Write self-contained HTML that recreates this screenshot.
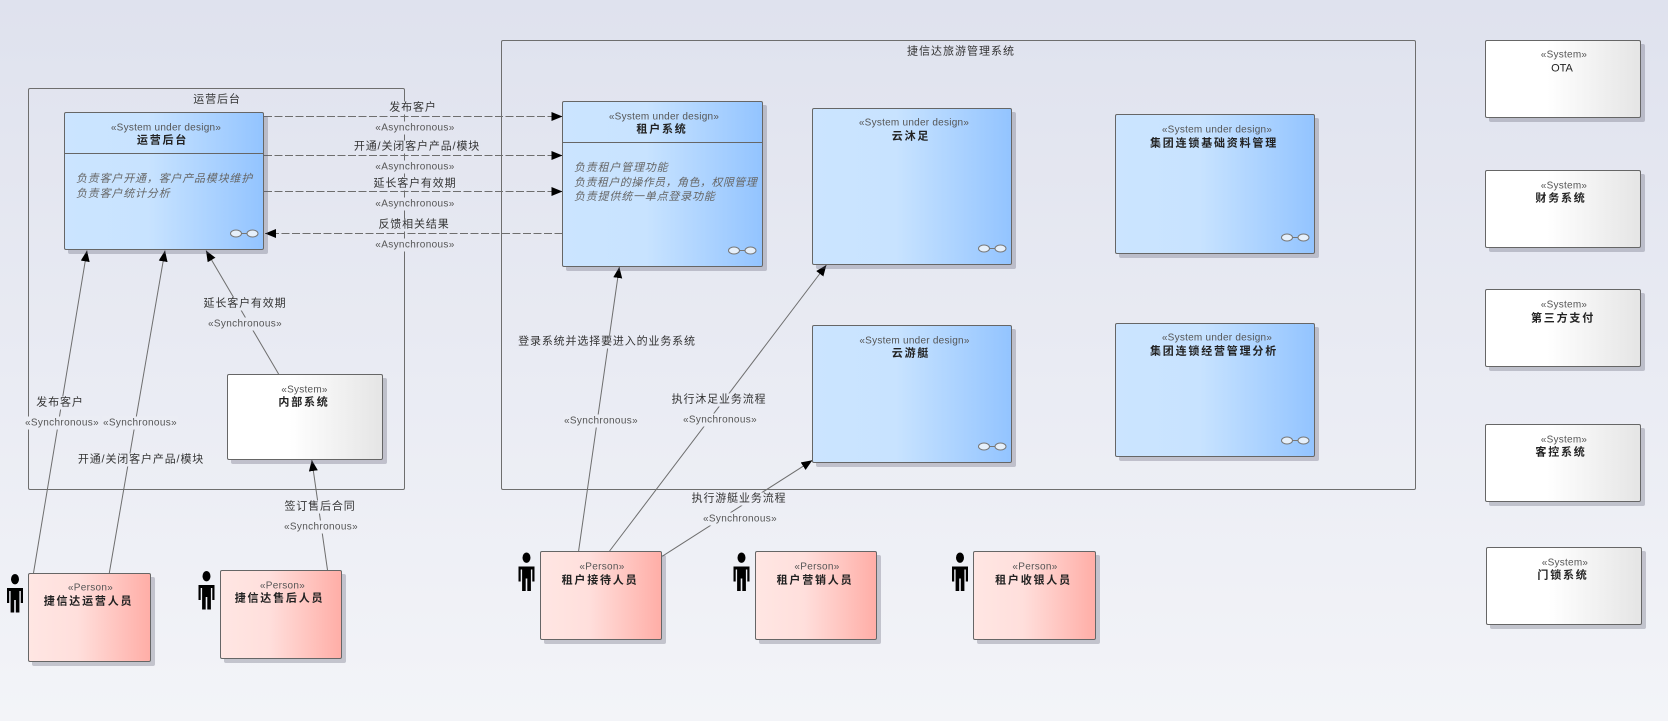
<!DOCTYPE html>
<html lang="zh">
<head>
<meta charset="utf-8">
<title>捷信达旅游管理系统</title>
<style>
html,body{margin:0;padding:0;width:1668px;height:721px;overflow:hidden}
body{position:relative;background:linear-gradient(180deg,#dfe2ee 0%,#f3f4f8 100%);font-family:"Liberation Sans","Noto Sans CJK SC",sans-serif;font-size:11px;color:#333}
.bd{position:absolute;box-sizing:border-box;border:1px solid #6e6e6e;border-radius:2px}
svg{position:absolute;left:0;top:0}
.box{position:absolute;box-sizing:border-box;border:1px solid #666;border-radius:2px;box-shadow:4px 4px 0 rgba(90,90,110,.3)}
.blue{background:linear-gradient(90deg,#cbe4ff 0%,#c8e3ff 42%,#93c4ff 100%)}
.red{background:linear-gradient(90deg,#ffe6e3 0%,#ffdfdc 40%,#ffaea7 100%)}
.white{background:linear-gradient(90deg,#fff 0%,#fff 40%,#e5e5e5 100%)}
.t{position:absolute;transform:translate(-50%,-50%);margin-top:1px;white-space:nowrap;line-height:13px}
.s{color:#555;font-size:10px;letter-spacing:.25px}
.n{font-weight:bold;color:#222;letter-spacing:1.8px}
.l{color:#333;letter-spacing:.85px;padding:0 1px}
.a{color:#555;font-size:10px;letter-spacing:.35px;padding:0 1px}
.i{position:absolute;white-space:nowrap;font-style:italic;color:#666;letter-spacing:.8px;line-height:14.5px}
.div{position:absolute;height:1px;background:#666}
</style>
</head>
<body>
<div class="bd" style="left:28px;top:88px;width:377px;height:402px"></div>
<div class="bd" style="left:501px;top:40px;width:915px;height:450px"></div>

<svg width="1668" height="721">
<defs>
<marker id="ah" markerUnits="userSpaceOnUse" markerWidth="12" markerHeight="10" refX="11" refY="4.5" orient="auto"><path d="M0,0 L11,4.5 L0,9 Z" fill="#000"/></marker>
</defs>
<g stroke="#6e6e6e" stroke-width="1" fill="none">
<line x1="264" y1="116.5" x2="562.5" y2="116.5" stroke-dasharray="8 2.5" marker-end="url(#ah)"/>
<line x1="264" y1="155.5" x2="562.5" y2="155.5" stroke-dasharray="8 2.5" marker-end="url(#ah)"/>
<line x1="264" y1="191.5" x2="562.5" y2="191.5" stroke-dasharray="8 2.5" marker-end="url(#ah)"/>
<line x1="562.5" y1="233.5" x2="265" y2="233.5" stroke-dasharray="8 2.5" marker-end="url(#ah)"/>
<line x1="278.6" y1="374" x2="206" y2="250.5" marker-end="url(#ah)"/>
<line x1="33.5" y1="573" x2="87" y2="250.5" marker-end="url(#ah)"/>
<line x1="109.3" y1="573" x2="165" y2="250.5" marker-end="url(#ah)"/>
<line x1="327.5" y1="570" x2="311.8" y2="460" marker-end="url(#ah)"/>
<line x1="578.6" y1="551" x2="619.3" y2="267" marker-end="url(#ah)"/>
<line x1="609.6" y1="551" x2="826.4" y2="265" marker-end="url(#ah)"/>
<line x1="662.2" y1="556.3" x2="812.4" y2="460.3" marker-end="url(#ah)"/>
</g>
</svg>

<div class="t" style="left:217px;top:99px;color:#333;letter-spacing:.9px">运营后台</div>
<div class="t" style="left:961px;top:51px;color:#333;letter-spacing:1px">捷信达旅游管理系统</div>

<div class="t l" style="left:413px;top:107px;background:#e2e5f0">发布客户</div>
<div class="t a" style="left:415px;top:127px;background:#e3e5f0">«Asynchronous»</div>
<div class="t l" style="left:417px;top:146px;background:#e3e6f0">开通/关闭客户产品/模块</div>
<div class="t a" style="left:415px;top:166px;background:#e4e6f0">«Asynchronous»</div>
<div class="t l" style="left:415px;top:183px;background:#e4e7f1">延长客户有效期</div>
<div class="t a" style="left:415px;top:203px;background:#e5e7f1">«Asynchronous»</div>
<div class="t l" style="left:414px;top:224px;background:#e5e8f1">反馈相关结果</div>
<div class="t a" style="left:415px;top:244px;background:#e6e8f1">«Asynchronous»</div>

<div class="t l" style="left:245px;top:303px;background:#e7eaf2">延长客户有效期</div>
<div class="t a" style="left:245px;top:323px;background:#e8eaf2">«Synchronous»</div>
<div class="t l" style="left:60px;top:402px;background:#eaecf4">发布客户</div>
<div class="t a" style="left:62px;top:422px;background:#ebedf4">«Synchronous»</div>
<div class="t a" style="left:140px;top:422px;background:#ebedf4">«Synchronous»</div>
<div class="t l" style="left:141px;top:459px;background:#eceef4">开通/关闭客户产品/模块</div>
<div class="t l" style="left:320px;top:506px;background:#edeff5">签订售后合同</div>
<div class="t a" style="left:321px;top:526px;background:#eeeff5">«Synchronous»</div>
<div class="t l" style="left:607px;top:341px;background:#e8eaf3">登录系统并选择要进入的业务系统</div>
<div class="t a" style="left:601px;top:420px;background:#ebedf4">«Synchronous»</div>
<div class="t l" style="left:719px;top:399px;background:#eaecf4">执行沐足业务流程</div>
<div class="t a" style="left:720px;top:419px;background:#ebedf4">«Synchronous»</div>
<div class="t l" style="left:739px;top:498px;background:#edeef5">执行游艇业务流程</div>
<div class="t a" style="left:740px;top:518px;background:#edeff5">«Synchronous»</div>

<!-- blue boxes -->
<div class="box blue" style="left:64px;top:112px;width:200px;height:138px"></div>
<div class="div" style="left:65px;top:153px;width:198px"></div>
<div class="t s" style="left:166px;top:127px">«System under design»</div>
<div class="t n" style="left:162.5px;top:140px">运营后台</div>
<div class="i" style="left:76px;top:172px">负责客户开通，客户产品模块维护<br>负责客户统计分析</div>

<div class="box blue" style="left:562px;top:101px;width:201px;height:166px"></div>
<div class="div" style="left:563px;top:142px;width:199px"></div>
<div class="t s" style="left:664px;top:116px">«System under design»</div>
<div class="t n" style="left:662px;top:129px">租户系统</div>
<div class="i" style="left:574px;top:161px">负责租户管理功能<br><span style="letter-spacing:.45px">负责租户的操作员，角色，权限管理</span><br>负责提供统一单点登录功能</div>

<div class="box blue" style="left:812px;top:108px;width:200px;height:157px"></div>
<div class="t s" style="left:914px;top:122px">«System under design»</div>
<div class="t n" style="left:911px;top:136px">云沐足</div>

<div class="box blue" style="left:812px;top:325px;width:200px;height:138px"></div>
<div class="t s" style="left:914.5px;top:340px">«System under design»</div>
<div class="t n" style="left:911px;top:353px">云游艇</div>

<div class="box blue" style="left:1115px;top:114px;width:200px;height:140px"></div>
<div class="t s" style="left:1217px;top:129px">«System under design»</div>
<div class="t n" style="left:1214px;top:143px">集团连锁基础资料管理</div>

<div class="box blue" style="left:1115px;top:323px;width:200px;height:134px"></div>
<div class="t s" style="left:1217px;top:337px">«System under design»</div>
<div class="t n" style="left:1214px;top:351px">集团连锁经营管理分析</div>

<!-- white boxes -->
<div class="box white" style="left:227px;top:374px;width:156px;height:86px"></div>
<div class="t s" style="left:304.5px;top:389px">«System»</div>
<div class="t n" style="left:304px;top:402px">内部系统</div>

<div class="box white" style="left:1485px;top:40px;width:156px;height:78px"></div>
<div class="t s" style="left:1564px;top:54px">«System»</div>
<div class="t" style="left:1562px;top:68px;color:#222">OTA</div>

<div class="box white" style="left:1485px;top:170px;width:156px;height:78px"></div>
<div class="t s" style="left:1564px;top:185px">«System»</div>
<div class="t n" style="left:1561px;top:198px">财务系统</div>

<div class="box white" style="left:1485px;top:289px;width:156px;height:78px"></div>
<div class="t s" style="left:1564px;top:304px">«System»</div>
<div class="t n" style="left:1563px;top:318px">第三方支付</div>

<div class="box white" style="left:1485px;top:424px;width:156px;height:78px"></div>
<div class="t s" style="left:1564px;top:439px">«System»</div>
<div class="t n" style="left:1561px;top:452px">客控系统</div>

<div class="box white" style="left:1486px;top:547px;width:156px;height:78px"></div>
<div class="t s" style="left:1565px;top:562px">«System»</div>
<div class="t n" style="left:1563px;top:575px">门锁系统</div>

<!-- person boxes -->
<div class="box red" style="left:28px;top:573px;width:123px;height:89px"></div>
<div class="t s" style="left:90.5px;top:587px;letter-spacing:.3px">«Person»</div>
<div class="t n" style="left:88.5px;top:601px">捷信达运营人员</div>

<div class="box red" style="left:220px;top:570px;width:122px;height:89px"></div>
<div class="t s" style="left:282.5px;top:585px;letter-spacing:.3px">«Person»</div>
<div class="t n" style="left:279.5px;top:598px">捷信达售后人员</div>

<div class="box red" style="left:540px;top:551px;width:122px;height:89px"></div>
<div class="t s" style="left:602px;top:566px;letter-spacing:.3px">«Person»</div>
<div class="t n" style="left:600px;top:580px">租户接待人员</div>

<div class="box red" style="left:755px;top:551px;width:122px;height:89px"></div>
<div class="t s" style="left:817px;top:566px;letter-spacing:.3px">«Person»</div>
<div class="t n" style="left:815px;top:580px">租户营销人员</div>

<div class="box red" style="left:973px;top:551px;width:123px;height:89px"></div>
<div class="t s" style="left:1035px;top:566px;letter-spacing:.3px">«Person»</div>
<div class="t n" style="left:1033.5px;top:580px">租户收银人员</div>

<svg width="1668" height="721">
<defs>
<g id="act" fill="#000">
<ellipse cx="8" cy="5.2" rx="4" ry="5.2"/>
<rect x="0" y="14" width="16" height="3"/>
<rect x="0" y="14" width="2.2" height="15"/>
<rect x="13.8" y="14" width="2.2" height="15"/>
<rect x="3.6" y="14" width="8.8" height="12"/>
<rect x="3.6" y="26" width="3.6" height="12.5"/>
<rect x="8.8" y="26" width="3.6" height="12.5"/>
</g>
<g id="lnk" fill="#e6f0fb" stroke="#777" stroke-width="1">
<line x1="5" y1="0" x2="11" y2="0"/>
<ellipse cx="0" cy="0" rx="5.5" ry="3.5"/>
<ellipse cx="16.5" cy="0" rx="5.5" ry="3.5"/>
</g>
</defs>
<use href="#act" x="7" y="574"/>
<use href="#act" x="198.5" y="571"/>
<use href="#act" x="518.5" y="552.5"/>
<use href="#act" x="733.5" y="552.5"/>
<use href="#act" x="952" y="552.5"/>
<use href="#lnk" x="236" y="233.5"/>
<use href="#lnk" x="734" y="250.5"/>
<use href="#lnk" x="984" y="248.5"/>
<use href="#lnk" x="984" y="446.5"/>
<use href="#lnk" x="1287" y="237.5"/>
<use href="#lnk" x="1287" y="440.5"/>
</svg>
</body>
</html>
